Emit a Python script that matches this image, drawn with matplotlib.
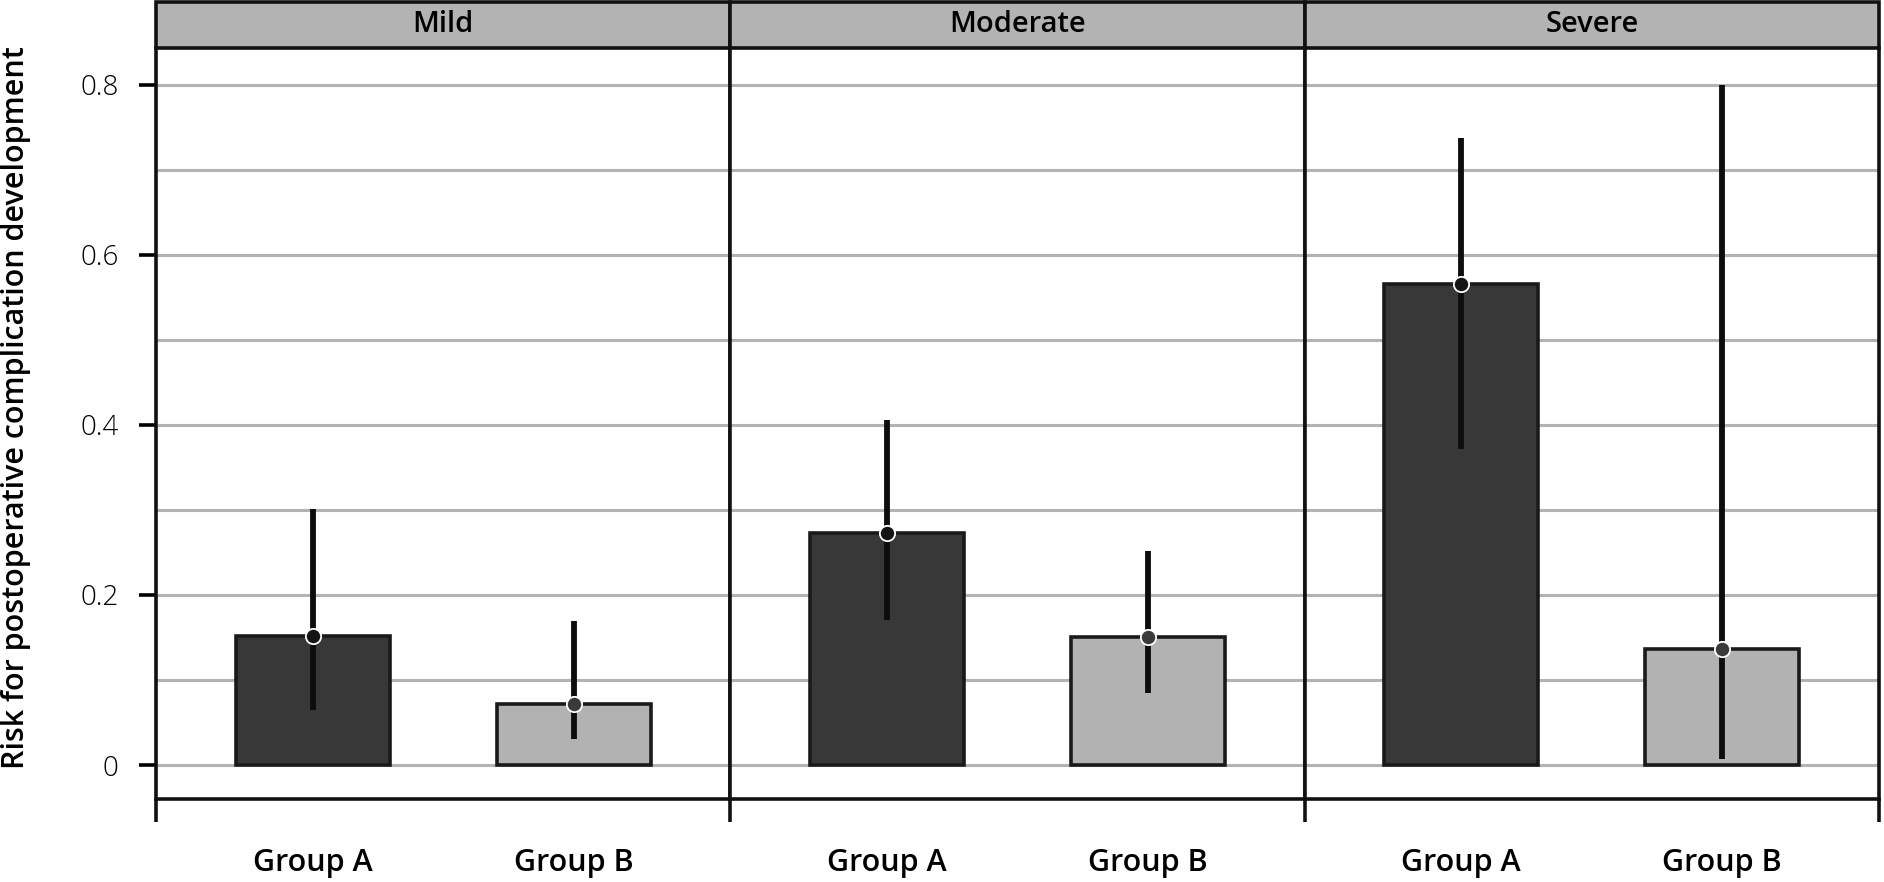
import matplotlib
matplotlib.use("Agg")
import matplotlib.pyplot as plt
from matplotlib.patches import Rectangle

plt.rcParams['font.family'] = ['Open Sans', 'DejaVu Sans']

# Data
severity = ["Mild", "Moderate", "Severe"]
groups = ["Group A", "Group B"]
risk = [[0.152, 0.072], [0.273, 0.151], [0.565, 0.137]]
ci_low = [[0.065, 0.031], [0.170, 0.085], [0.372, 0.007]]
ci_high = [[0.301, 0.169], [0.406, 0.252], [0.737, 0.799]]
y_ticks = [0, 0.2, 0.4, 0.6, 0.8]
y_tick_labels = ["0", "0.2", "0.4", "0.6", "0.8"]

bar_colors = ["#383838", "#b2b2b2"]
point_colors = ["#141414", "#3a3a3a"]

fig, axes = plt.subplots(1, 3, figsize=(18.84, 8.82), dpi=100, sharey=True)
fig.subplots_adjust(left=0.0828, right=0.9973, bottom=0.094, top=0.9456, wspace=0)

ax_h_px = 751.0
lw = 2.6
x = [1, 2]
for i, ax in enumerate(axes):
    ax.set_axisbelow(True)
    ax.bar(x, risk[i], width=0.59, color=bar_colors, edgecolor="#1a1a1a",
           linewidth=lw, zorder=2)
    for j in range(2):
        ax.vlines(x[j], ci_low[i][j], ci_high[i][j], color="#0d0d0d",
                  linewidth=4.2, zorder=3)
        ax.plot(x[j], risk[i][j], "o", ms=11, mfc=point_colors[j], mec="white",
                mew=1.3, zorder=4)
    ax.set_xlim(0.4, 2.6)
    ax.set_ylim(-0.04, 0.843)
    ax.set_yticks(y_ticks)
    ax.set_yticks([0.1, 0.3, 0.5, 0.7], minor=True)
    ax.grid(which="both", axis="y", color="#b3b3b3", linewidth=2.2)
    ax.tick_params(axis="y", which="minor", length=0)
    ax.set_xticks(x, groups)
    ax.tick_params(axis="x", length=0, pad=35, labelsize=22)
    for lab in ax.get_xticklabels():
        lab.set_fontweight("semibold")
    for s in ax.spines.values():
        s.set_linewidth(lw)
        s.set_color("#111111")
    ax.spines["top"].set_visible(False)

    # panel strip
    ax.add_patch(Rectangle((0, 1), 1, 46 / ax_h_px, transform=ax.transAxes,
                           facecolor="#b3b3b3", edgecolor="#111111", linewidth=lw,
                           clip_on=False))
    ax.text(0.5, 1 + 23 / ax_h_px, severity[i], transform=ax.transAxes,
            ha="center", va="center", fontsize=21, fontweight="semibold")

    # spine extensions below the axis
    ax.plot([0, 0], [0, -23 / ax_h_px], transform=ax.transAxes, color="#111111",
            linewidth=lw, clip_on=False, solid_capstyle="butt")
    if i == len(axes) - 1:
        ax.plot([1, 1], [0, -23 / ax_h_px], transform=ax.transAxes, color="#111111",
                linewidth=lw, clip_on=False, solid_capstyle="butt")

axes[0].set_yticklabels(y_tick_labels)
axes[0].tick_params(axis="y", which="major", length=12, width=lw, pad=15,
                    labelsize=20)
for lab in axes[0].get_yticklabels():
    lab.set_fontweight("light")
for ax in axes[1:]:
    ax.tick_params(axis="y", which="major", length=0)

fig.text(16 / 1884, 1 - 408 / 882, "Risk for postoperative complication development",
         rotation=90, ha="center", va="center", fontsize=22, fontweight="semibold")

plt.savefig("out.png", dpi=100)
